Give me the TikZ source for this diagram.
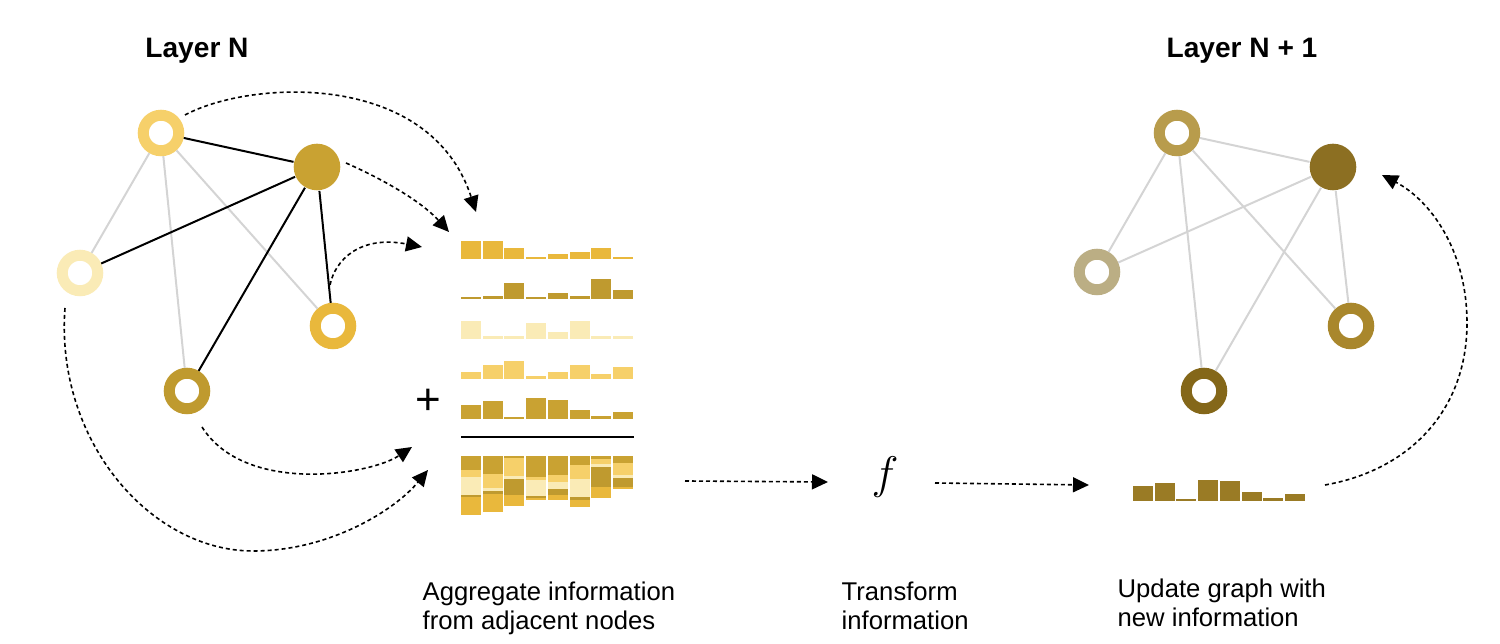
\documentclass[tikz,border=0pt]{standalone}
\usepackage{fix-cm}
\usepackage{fontspec}
\setmainfont{Liberation Sans}
\usetikzlibrary{arrows.meta}

% colours of the nodes, layer N
\definecolor{colA}{HTML}{F6D06A}
\definecolor{colB}{HTML}{C9A232}
\definecolor{colC}{HTML}{FAEBB6}
\definecolor{colD}{HTML}{E9B83C}
\definecolor{colE}{HTML}{BF9A2F}
% colours of the nodes, layer N + 1
\definecolor{newA}{HTML}{B89C4C}
\definecolor{newB}{HTML}{8C6F22}
\definecolor{newC}{HTML}{BBAE84}
\definecolor{newD}{HTML}{A9872C}
\definecolor{newE}{HTML}{846719}
\definecolor{newbar}{HTML}{9A7B25}
\definecolor{edgegray}{HTML}{D4D4D4}

\tikzset{
  ring/.style={circle, draw=#1, line width=0.11cm, fill=white, minimum size=0.355cm, inner sep=0pt},
  disc/.style={circle, fill=#1, minimum size=0.466cm, inner sep=0pt},
  blackedge/.style={line width=0.02cm, black},
  grayedge/.style={line width=0.02cm, edgegray},
  flow/.style={line width=0.016cm, dash pattern=on 0.04cm off 0.03cm, -{Triangle[length=0.16cm,width=0.15cm]}},
  heading/.style={font=\fontsize{8pt}{9.6pt}\selectfont\bfseries, inner sep=0pt},
  caption/.style={font=\fontsize{7.3pt}{8.25pt}\selectfont, align=left, inner sep=0pt, anchor=north west},
}

\begin{document}
\begin{tikzpicture}
                        \useasboundingbox (0,0) rectangle (15.000000,6.440000);

                        % Marking titles
                        \draw (1.970000,5.865000) node [heading, anchor=base] (ttlold) {Layer N};%
                        \draw (12.420000,5.865000) node [heading, anchor=base] (ttlnew) {Layer N + 1};%

                        % Drawing nodes of layer N
                        \node [ring=colA] (a) at (1.610000,5.110000) {};%
                        \node [disc=colB] (b) at (3.170000,4.770000) {};%
                        \node [ring=colC] (c) at (0.800000,3.710000) {};%
                        \node [ring=colD] (d) at (3.330000,3.180000) {};%
                        \node [ring=colE] (e) at (1.870000,2.530000) {};%

                        % Drawing edges of layer N
                        \draw [grayedge] (a) -- (c);%
                        \draw [grayedge] (a) -- (e);%
                        \draw [grayedge] (a) -- (d);%
                        \draw [blackedge] (a) -- (b);%
                        \draw [blackedge] (b) -- (c);%
                        \draw [blackedge] (b) -- (e);%
                        \draw [blackedge] (b) -- (d);%

                        % Drawing nodes of layer N + 1
                        \node [ring=newA] (na) at (11.770000,5.110000) {};%
                        \node [disc=newB] (nb) at (13.330000,4.770000) {};%
                        \node [ring=newC] (nc) at (10.970000,3.720000) {};%
                        \node [ring=newD] (nd) at (13.510000,3.180000) {};%
                        \node [ring=newE] (ne) at (12.040000,2.530000) {};%

                        % Drawing edges of layer N + 1
                        \draw [grayedge] (na) -- (nb);%
                        \draw [grayedge] (na) -- (nc);%
                        \draw [grayedge] (na) -- (ne);%
                        \draw [grayedge] (na) -- (nd);%
                        \draw [grayedge] (nb) -- (nc);%
                        \draw [grayedge] (nb) -- (ne);%
                        \draw [grayedge] (nb) -- (nd);%

                        % Drawing messages, one row for each node
                        \foreach \h [count=\i from 0] in {18,18,11,2,5,7,11,2}
                          \fill [colD] ({4.61+0.217*\i},3.85) rectangle ++(0.20,{\h/100});
                        \foreach \h [count=\i from 0] in {2,3,16,2,6,3,20,9}
                          \fill [colE] ({4.61+0.217*\i},3.45) rectangle ++(0.20,{\h/100});
                        \foreach \h [count=\i from 0] in {18,3,3,16,7,18,3,3}
                          \fill [colC] ({4.61+0.217*\i},3.05) rectangle ++(0.20,{\h/100});
                        \foreach \h [count=\i from 0] in {7,14,18,3,7,14,5,12}
                          \fill [colA] ({4.61+0.217*\i},2.65) rectangle ++(0.20,{\h/100});
                        \foreach \h [count=\i from 0] in {14,18,2,21,19,9,3,7}
                          \fill [colB] ({4.61+0.217*\i},2.25) rectangle ++(0.20,{\h/100});

                        % Marking the sum
                        \node (plus) at (4.280000,2.420000) {\fontsize{12.5pt}{14pt}\selectfont +};%
                        \draw [line width=0.02cm] (4.610000,2.070000) -- (6.340000,2.070000);%

                        % Drawing stacked messages
                        \foreach \i/\hA/\hB/\hC/\hD/\hE in {0/18/2/18/7/14, 1/18/3/3/14/18, 2/11/16/3/18/2, 3/2/2/16/3/21,
                                                            4/5/6/7/7/19, 5/7/3/18/14/9, 6/11/20/3/5/3, 7/2/9/3/12/7} {
                          \pgfmathsetmacro\xl{4.61+0.217*\i}
                          \pgfmathsetmacro\ya{1.88-\hE/100}
                          \pgfmathsetmacro\yb{\ya-\hD/100}
                          \pgfmathsetmacro\yc{\yb-\hC/100}
                          \pgfmathsetmacro\yd{\yc-\hB/100}
                          \pgfmathsetmacro\ye{\yd-\hA/100}
                          \fill [colB] (\xl,1.88) rectangle ++(0.20,\ya-1.88);
                          \fill [colA] (\xl,\ya) rectangle ++(0.20,\yb-\ya);
                          \fill [colC] (\xl,\yb) rectangle ++(0.20,\yc-\yb);
                          \fill [colE] (\xl,\yc) rectangle ++(0.20,\yd-\yc);
                          \fill [colD] (\xl,\yd) rectangle ++(0.20,\ye-\yd);
                        }

                        % Marking the transform
                        \draw (8.850000,1.550000) node [anchor=base, inner sep=0pt] (fn) {\fontsize{13pt}{15pt}\selectfont $f$};%

                        % Drawing the new message
                        \foreach \h [count=\i from 0] in {15,18,2,21,20,9,3,7}
                          \fill [newbar] ({11.33+0.217*\i},1.43) rectangle ++(0.20,{\h/100});

                        % Ends of the arrows
                        \coordinate (s1) at (1.850000,5.290000);
                        \coordinate (e1) at (4.760000,4.320000);
                        \coordinate (s2) at (3.460000,4.810000);
                        \coordinate (e2) at (4.490000,4.120000);
                        \coordinate (s3) at (3.300000,3.590000);
                        \coordinate (e3) at (4.220000,3.970000);
                        \coordinate (s4) at (2.020000,2.170000);
                        \coordinate (e4) at (4.120000,1.970000);
                        \coordinate (s5) at (0.650000,3.360000);
                        \coordinate (e5) at (4.280000,1.740000);
                        \coordinate (s6) at (6.850000,1.630000);
                        \coordinate (e6) at (8.280000,1.620000);
                        \coordinate (s7) at (9.350000,1.610000);
                        \coordinate (e7) at (10.890000,1.590000);
                        \coordinate (s8) at (13.250000,1.590000);
                        \coordinate (e8) at (13.820000,4.690000);

                        % Drawing arrows
                        \draw [flow] (s1) .. controls (2.50,5.64) and (4.30,5.74) .. (e1);%
                        \draw [flow] (s2) .. controls (3.80,4.66) and (4.20,4.44) .. (e2);%
                        \draw [flow] (s3) .. controls (3.35,3.84) and (3.60,4.09) .. (e3);%
                        \draw [flow] (s4) .. controls (2.45,1.49) and (3.70,1.69) .. (e4);%
                        \draw [flow] (s5) .. controls (0.55,2.04) and (1.50,0.93) .. (2.53,0.93)
                                          .. controls (3.30,0.93) and (3.95,1.34) .. (e5);%
                        \draw [flow] (s6) -- (e6);%
                        \draw [flow] (s7) -- (e7);%
                        \draw [flow] (s8) .. controls (14.10,1.74) and (14.67,2.34) .. (14.67,3.21)
                                          .. controls (14.67,3.94) and (14.30,4.44) .. (e8);%

                        % Marking captions
                        \draw (4.220000,0.630000) node [caption] (capagg) {Aggregate information\\from adjacent nodes};%
                        \draw (8.410000,0.630000) node [caption] (captrf) {Transform\\information};%
                        \draw (11.170000,0.660000) node [caption] (capupd) {Update graph with\\new information};%
                    \end{tikzpicture}
\end{document}
